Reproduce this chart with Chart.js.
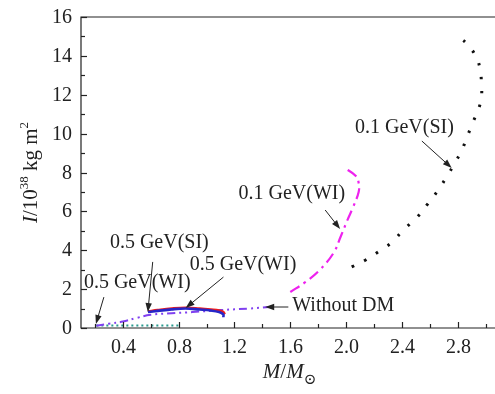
<!DOCTYPE html>
<html><head><meta charset="utf-8">
<script src="https://cdn.jsdelivr.net/npm/chart.js@4/dist/chart.umd.min.js"></script>
<style>html,body{margin:0;padding:0;background:#fff}#wrap{width:495px;height:394px}</style>
</head><body>
<div id="wrap"><canvas id="c"></canvas></div>
<script>
// ---- data (M/M_sun, I/10^38 kg m^2) ----
const si01M = [2.04, 2.14, 2.24, 2.33, 2.41, 2.51, 2.59, 2.66, 2.72, 2.78, 2.83, 2.87, 2.91, 2.95, 2.97, 2.97, 2.96, 2.93, 2.86, 2.83];
const si01I = [3.14, 3.50, 3.96, 4.42, 5.04, 5.71, 6.43, 7.10, 7.77, 8.49, 9.16, 9.88, 10.60, 11.27, 11.88, 12.60, 13.32, 13.99, 14.66, 14.85];
const wi01M = [1.60, 1.71, 1.81, 1.91, 1.96, 2.01, 2.05, 2.09, 2.09, 2.07, 1.99];
const wi01I = [1.85, 2.37, 2.98, 3.86, 4.68, 5.56, 6.22, 7.00, 7.46, 7.82, 8.23];
const noDmM = [0.21, 0.30, 0.40, 0.50, 0.60, 0.75, 0.90, 1.10, 1.30, 1.45];
const noDmI = [0.12, 0.22, 0.33, 0.52, 0.68, 0.76, 0.82, 0.92, 1.00, 1.08];
const si05M = [0.58, 0.65, 0.75, 0.85, 0.95, 1.03, 1.09, 1.12, 1.13];
const si05I = [0.85, 0.92, 1.00, 1.04, 1.00, 0.95, 0.90, 0.82, 0.70];
const wi05M = [0.58, 0.65, 0.75, 0.85, 0.95, 1.03, 1.09, 1.12, 1.12];
const wi05I = [0.82, 0.88, 0.96, 1.00, 0.95, 0.90, 0.82, 0.70, 0.55];
const lowM  = [0.21, 0.40, 0.60, 0.80];
const lowI  = [0.13, 0.13, 0.13, 0.13];

const xTickValues = [0.2,0.4,0.6,0.8,1.0,1.2,1.4,1.6,1.8,2.0,2.2,2.4,2.6,2.8,3.0];
const xTickLabels = ['0.4','0.8','1.2','1.6','2.0','2.4','2.8'];
const yTickLabels = ['0','2','4','6','8','10','12','14','16'];

// annotations: text anchor (left, middle) and arrow tail->head, in data units
const notes = [
  {text:'0.1 GeV(SI)', tx:2.064, ty:10.29, ax:[2.543, 9.62], ah:[2.757, 8.23]},
  {text:'0.1 GeV(WI)', tx:1.229, ty:6.89,  ax:[1.85, 6.07],  ah:[1.957, 5.09]},
  {text:'0.5 GeV(SI)', tx:0.307, ty:4.37,  ax:[0.614, 3.40], ah:[0.579, 0.82]},
  {text:'0.5 GeV(WI)', tx:0.879, ty:3.24,  ax:[1.121, 2.62], ah:[0.85, 1.03]},
  {text:'0.5 GeV(WI)', tx:0.121, ty:2.31,  ax:[0.264, 1.59], ah:[0.207, 0.21]},
  {text:'Without DM',  tx:1.614, ty:1.13,  ax:[1.586, 1.08], ah:[1.42, 1.08]}
];

const pts = (xs, ys) => xs.map((x, i) => ({x, y: ys[i]}));
const SERIF = '"Liberation Serif", "DejaVu Serif", serif';

const deco = {
  id: 'deco',
  afterDraw(chart) {
    const ctx = chart.ctx, a = chart.chartArea;
    const xs = chart.scales.x, ys = chart.scales.y;
    ctx.save();
    ctx.strokeStyle = '#222';
    ctx.lineWidth = 1.2;
    ctx.beginPath();
    ctx.moveTo(a.right + 2, a.top); ctx.lineTo(a.left, a.top); ctx.lineTo(a.left, a.bottom); ctx.lineTo(a.right + 2, a.bottom);
    ctx.stroke();
    // x ticks (inward) + labels
    ctx.fillStyle = '#222';
    ctx.font = '20px ' + SERIF;
    ctx.textAlign = 'center';
    ctx.textBaseline = 'middle';
    xs.ticks.forEach(t => {
      const p = Math.round(xs.getPixelForValue(t.value)) + 0.5;
      const s = t.value.toFixed(1);
      const major = xTickLabels.includes(s);
      ctx.beginPath(); ctx.moveTo(p, a.bottom); ctx.lineTo(p, a.bottom - (major ? 6 : 4)); ctx.stroke();
      if (major) ctx.fillText(s, p, a.bottom + 20);
    });
    // y ticks (inward), major + minor, labels
    ctx.textAlign = 'right';
    for (let v = 0; v <= 16; v++) {
      const p = Math.round(ys.getPixelForValue(v)) + 0.5;
      const major = yTickLabels.includes(String(v));
      ctx.beginPath(); ctx.moveTo(a.left, p); ctx.lineTo(a.left + (major ? 6 : 4), p); ctx.stroke();
      if (major) ctx.fillText(String(v), a.left - 9, p);
    }
    // annotations
    ctx.textAlign = 'left';
    notes.forEach(n => {
      ctx.fillText(n.text, xs.getPixelForValue(n.tx), ys.getPixelForValue(n.ty));
      const x0 = xs.getPixelForValue(n.ax[0]), y0 = ys.getPixelForValue(n.ax[1]);
      const x1 = xs.getPixelForValue(n.ah[0]), y1 = ys.getPixelForValue(n.ah[1]);
      const ang = Math.atan2(y1 - y0, x1 - x0), L = 9, W = 3.2;
      ctx.lineWidth = 1;
      ctx.beginPath();
      ctx.moveTo(x0, y0);
      ctx.lineTo(x1 - L * 0.8 * Math.cos(ang), y1 - L * 0.8 * Math.sin(ang));
      ctx.stroke();
      ctx.beginPath();
      ctx.moveTo(x1, y1);
      ctx.lineTo(x1 - L * Math.cos(ang) + W * Math.sin(ang), y1 - L * Math.sin(ang) - W * Math.cos(ang));
      ctx.lineTo(x1 - L * Math.cos(ang) - W * Math.sin(ang), y1 - L * Math.sin(ang) + W * Math.cos(ang));
      ctx.closePath(); ctx.fill();
    });
    // x title: M/M⊙
    const parts = [
      {s:'M', f:'italic 21px ' + SERIF, dy:0},
      {s:'/', f:'21px ' + SERIF, dy:0},
      {s:'M', f:'italic 21px ' + SERIF, dy:0},
      {s:'\u2299', f:'15px ' + SERIF, dy:6}
    ];
    ctx.textBaseline = 'alphabetic';
    let w = 0;
    parts.forEach(p => { ctx.font = p.f; p.w = ctx.measureText(p.s).width; w += p.w; });
    let cx = (a.left + a.right) / 2 - w / 2 + 2;
    const by = 378;
    parts.forEach(p => { ctx.font = p.f; ctx.fillText(p.s, cx, by + p.dy); cx += p.w; });
    // y title: I/10^38 kg m^2 (rotated)
    const yp = [
      {s:'I', f:'italic 21px ' + SERIF, dy:0},
      {s:'/10', f:'21px ' + SERIF, dy:0},
      {s:'38', f:'13px ' + SERIF, dy:-9},
      {s:' kg m', f:'21px ' + SERIF, dy:0},
      {s:'2', f:'13px ' + SERIF, dy:-9}
    ];
    w = 0;
    yp.forEach(p => { ctx.font = p.f; p.w = ctx.measureText(p.s).width; w += p.w; });
    ctx.translate(37, (a.top + a.bottom) / 2);
    ctx.rotate(-Math.PI / 2);
    cx = -w / 2;
    yp.forEach(p => { ctx.font = p.f; ctx.fillText(p.s, cx, p.dy); cx += p.w; });
    ctx.restore();
  }
};

new Chart(document.getElementById('c'), {
  type: 'line',
  data: {
    datasets: [
      {label:'0.5 GeV(WI)', data: pts(wi05M, wi05I), borderColor:'#2626c8', borderWidth:2.6, tension:0.4, pointRadius:0, order:1},
      {label:'0.5 GeV(SI)', data: pts(si05M, si05I), borderColor:'#ee1c1c', borderWidth:2.6, tension:0.4, pointRadius:0, order:2},
      {label:'Without DM', data: pts(noDmM, noDmI), borderColor:'#8040f0', borderWidth:2, borderDash:[8,4,2,4,2,4], tension:0.4, pointRadius:0, order:3},
      {label:'0.5 GeV(WI) low', data: pts(lowM, lowI), borderColor:'#2a9a8e', borderWidth:2, borderDash:[2,3], tension:0, pointRadius:0, order:4},
      {label:'0.1 GeV(WI)', data: pts(wi01M, wi01I), borderColor:'#ee22ee', borderWidth:2.2, borderDash:[11,5,2.5,5], tension:0.4, pointRadius:0, order:5},
      {label:'0.1 GeV(SI)', data: pts(si01M, si01I), borderColor:'#111', borderWidth:3, borderDash:[2.5,11.5], tension:0.4, pointRadius:0, order:6}
    ]
  },
  options: {
    responsive: true, maintainAspectRatio: false, animation: false, devicePixelRatio: 1,
    layout: {padding: {top: 17, right: 1, left: 0, bottom: 0}},
    plugins: {legend: {display: false}, tooltip: {enabled: false}},
    scales: {
      x: {
        type: 'linear', min: 0.1, max: 3.06,
        grid: {display: false}, border: {display: false},
        afterBuildTicks: s => { s.ticks = xTickValues.map(v => ({value: v})); },
        afterFit: s => { s.height = 66; },
        ticks: {display: false}
      },
      y: {
        type: 'linear', min: 0, max: 16,
        grid: {display: false}, border: {display: false},
        afterBuildTicks: s => { s.ticks = yTickLabels.map(v => ({value: Number(v)})); },
        afterFit: s => { s.width = 81; },
        ticks: {display: false}
      }
    }
  },
  plugins: [deco]
});
</script>
</body></html>
